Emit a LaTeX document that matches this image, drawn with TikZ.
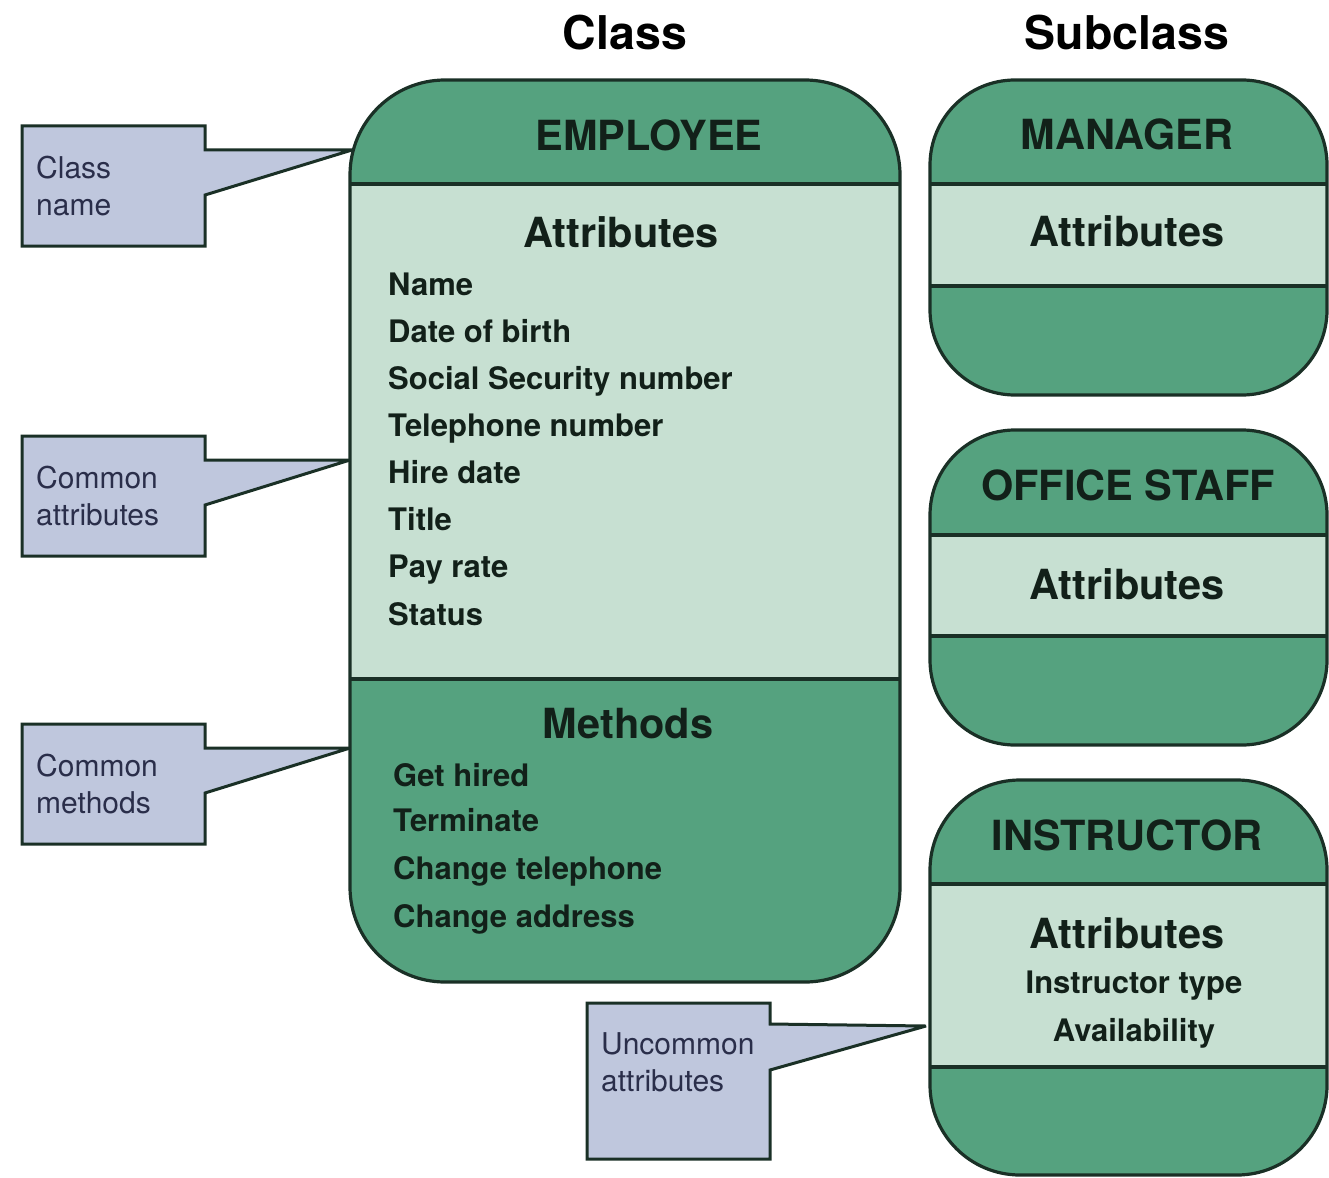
\documentclass[tikz,border=0pt]{standalone}
\usepackage{fontspec}
\setmainfont{TeX Gyre Heros}

\definecolor{darkg}{RGB}{85,162,127}
\definecolor{lightg}{RGB}{199,224,210}
\definecolor{notefill}{RGB}{191,199,221}
\definecolor{edgeink}{RGB}{26,48,38}
\definecolor{headink}{RGB}{18,32,25}
\definecolor{noteink}{RGB}{42,46,74}

% Class or subclass frame: dark header and footer, light band in between
\newcommand\umlframe[7]{% left, top, right, bottom, band top, band bottom, corner radius
  \fill[darkg, rounded corners=#7pt] (#1,#2) rectangle (#3,#4);
  \fill[lightg] (#1,#5) rectangle (#3,#6);
  \draw[frameline] (#1,#5) -- (#3,#5) (#1,#6) -- (#3,#6);
  \draw[frameline, rounded corners=#7pt] (#1,#2) rectangle (#3,#4);
}

\begin{document}
\begin{tikzpicture}[x=1pt, y=-1pt,
  frameline/.style={draw=edgeink, line width=3.2pt},
  notebox/.style={fill=notefill, draw=edgeink, line width=3pt, line join=miter, miter limit=3},
  coltitle/.style={font=\fontsize{46.5}{50}\selectfont\bfseries, text=black, anchor=base, inner sep=0pt},
  boxtitle/.style={font=\fontsize{41.5}{45}\selectfont\bfseries, text=headink, anchor=base, inner sep=0pt},
  item/.style={font=\fontsize{31}{34}\selectfont\bfseries, text=headink, anchor=base west, inner sep=0pt},
  citem/.style={font=\fontsize{31}{34}\selectfont\bfseries, text=headink, anchor=base, inner sep=0pt},
  notetext/.style={font=\fontsize{30}{37}\selectfont, text=noteink, anchor=base west, inner sep=0pt, align=left}]
\useasboundingbox (0,0) rectangle (1329,1177);

% column headings
\node[coltitle] (hclass) at (625,50) {Class};
\node[coltitle] (hsub) at (1127,50) {Subclass};

% class and subclass frames
\umlframe{350}{80}{900}{982}{184}{679}{95}
\umlframe{930}{80}{1327}{395}{184}{286}{85}
\umlframe{930}{430}{1327}{745}{535}{636}{85}
\umlframe{930}{780}{1327}{1175}{884}{1067}{90}

% EMPLOYEE class
\node[boxtitle] (emp) at (649,151) {EMPLOYEE};
\node[boxtitle] (empattr) at (621,247) {Attributes};
\node[item] (a1) at (388,295) {Name};
\node[item] (a2) at (388,342) {Date of birth};
\node[item] (a3) at (388,389) {Social Security number};
\node[item] (a4) at (388,436) {Telephone number};
\node[item] (a5) at (388,483) {Hire date};
\node[item] (a6) at (388,530) {Title};
\node[item] (a7) at (388,577) {Pay rate};
\node[item] (a8) at (388,625) {Status};
\node[boxtitle] (empmeth) at (628,738) {Methods};
\node[item] (m1) at (393,786) {Get hired};
\node[item] (m2) at (393,831) {Terminate};
\node[item] (m3) at (393,879) {Change telephone};
\node[item] (m4) at (393,927) {Change address};

% subclasses
\node[boxtitle] (mgr) at (1127,150) {MANAGER};
\node[boxtitle] (mgrattr) at (1127,246) {Attributes};
\node[boxtitle] (ofs) at (1128,500) {OFFICE STAFF};
\node[boxtitle] (ofsattr) at (1127,599) {Attributes};
\node[boxtitle] (ins) at (1127,850) {INSTRUCTOR};
\node[boxtitle] (insattr) at (1127,948) {Attributes};
\node[citem] (i1) at (1134,993) {Instructor type};
\node[citem] (i2) at (1134,1041) {Availability};

% points where the callouts touch the frames
\coordinate (tipname) at (352,150);
\coordinate (tipattr) at (350,460);
\coordinate (tipmeth) at (350,748);
\coordinate (tipunc) at (926,1026);

% callouts (text anchored at the baseline of the last line)
\draw[notebox] (22,126) -- (205,126) -- (205,150) -- (tipname) -- (205,195) -- (205,246) -- (22,246) -- cycle;
\node[notetext] (nname) at (36,215) {Class\\name};

\draw[notebox] (22,436) -- (205,436) -- (205,460) -- (tipattr) -- (205,505) -- (205,556) -- (22,556) -- cycle;
\node[notetext] (nattr) at (36,525) {Common\\attributes};

\draw[notebox] (22,724) -- (205,724) -- (205,748) -- (tipmeth) -- (205,793) -- (205,844) -- (22,844) -- cycle;
\node[notetext] (nmeth) at (36,813) {Common\\methods};

\draw[notebox] (587,1003) -- (770,1003) -- (770,1024) -- (tipunc) -- (770,1070) -- (770,1159) -- (587,1159) -- cycle;
\node[notetext] (nunc) at (601,1091) {Uncommon\\attributes};
\end{tikzpicture}
\end{document}
